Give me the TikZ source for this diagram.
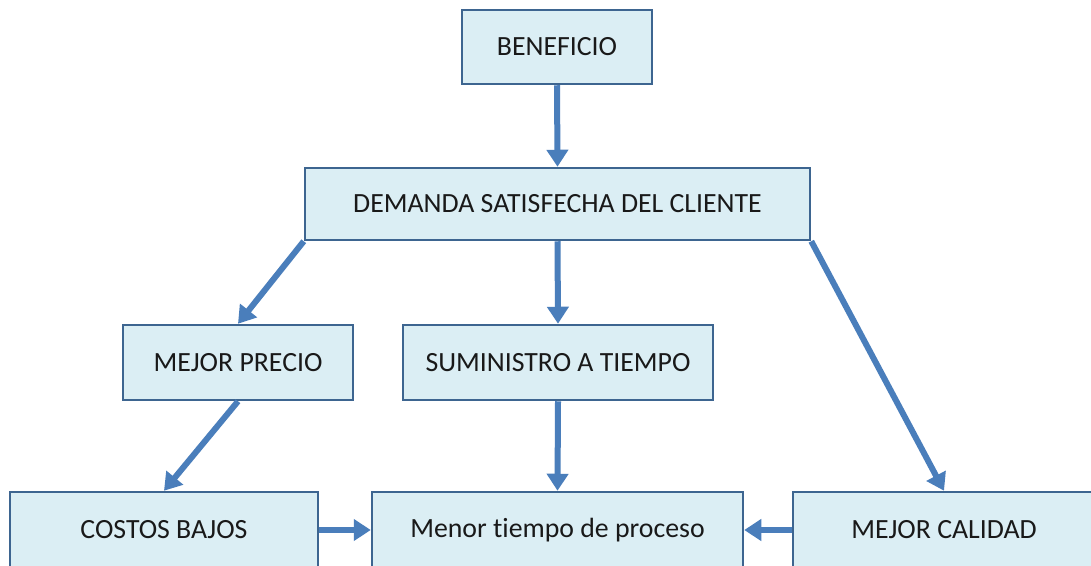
\documentclass[tikz,border=0pt]{standalone}
\usepackage{fontspec}
\setmainfont{Carlito}[Ligatures=NoCommon]
\usetikzlibrary{arrows.meta}
\definecolor{boxfill}{HTML}{DBEEF4}
\definecolor{boxline}{HTML}{3D6590}
\definecolor{arrowc}{HTML}{4A7EBB}
\tikzset{
  box/.style={draw=boxline, fill=boxfill, line width=2.5pt, rectangle, inner sep=0pt,
    font=\fontsize{27.8}{30}\selectfont, text=black!90},
  conn/.style={draw=arrowc, line width=6pt, -{Triangle[length=17pt,width=21pt]}}
}
\begin{document}
\begin{tikzpicture}[x=1pt,y=-1pt]
\clip (0,0) rectangle (1091,565);
\fill[white] (0,0) rectangle (1091,565);
\node[box, minimum width=190, minimum height=74] (ben) at (557,47) {BENEFICIO};
\node[box, minimum width=505, minimum height=72] (dem) at (557.5,204) {DEMANDA SATISFECHA DEL CLIENTE};
\node[box, minimum width=230, minimum height=75] (pre) at (238,362.5) {MEJOR PRECIO};
\node[box, minimum width=310, minimum height=75] (sum) at (558,362.5) {SUMINISTRO A TIEMPO};
\node[box, minimum width=308, minimum height=76] (cos) at (164,530) {COSTOS BAJOS};
\node[box, minimum width=371, minimum height=76] (men) at (557.5,530) {Menor tiempo de proceso};
\node[box, minimum width=302, minimum height=76] (cal) at (944,530) {MEJOR CALIDAD};
\draw[conn] (ben.south) -- (dem.north);
\draw[conn] (dem.south west) -- (pre.north);
\draw[conn] (dem.south) -- (sum.north);
\draw[conn] (dem.south east) -- (cal.north);
\draw[conn] (pre.south) -- (cos.north);
\draw[conn] (sum.south) -- (men.north);
\draw[conn] (cos.east) -- (men.west);
\draw[conn] (cal.west) -- (men.east);
\end{tikzpicture}
\end{document}
